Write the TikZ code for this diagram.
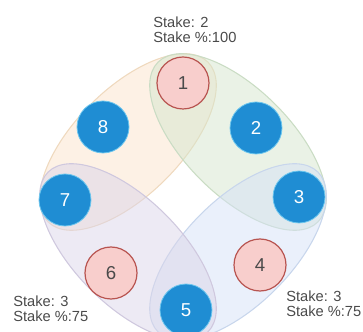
\documentclass[tikz,border=0pt]{standalone}
\usepackage{fontspec}
\setmainfont{Liberation Sans}

\definecolor{orfill}{HTML}{FBE3CC}
\definecolor{ordraw}{HTML}{EFD9BE}
\definecolor{grfill}{HTML}{D5E6CD}
\definecolor{grdraw}{HTML}{CADCC4}
\definecolor{blfill}{HTML}{D5E1F7}
\definecolor{bldraw}{HTML}{C8D6EC}
\definecolor{pufill}{HTML}{DBD5E9}
\definecolor{pudraw}{HTML}{CFC8DE}
\definecolor{ptblue}{HTML}{1F8DD3}
\definecolor{ptblueedge}{HTML}{6CC6EE}
\definecolor{ptpink}{HTML}{F8CECC}
\definecolor{ptpinkedge}{HTML}{B85450}
\definecolor{lblgray}{HTML}{4A4A4A}

\newcommand*{\ella}{113}
\newcommand*{\ellb}{53}
\newcommand*{\ellc}{55}

\begin{document}
\begin{tikzpicture}
[
	x=0.75pt,
	y=0.75pt,
	setell/.style={fill opacity=0.5,draw opacity=1,line width=0.8pt},
	bluept/.style={circle,draw=ptblueedge,fill=ptblue,text=white,line width=0.6pt,inner sep=0pt,minimum size=39pt,font=\fontsize{14}{14}\selectfont},
	pinkpt/.style={circle,draw=ptpinkedge,fill=ptpink,text=lblgray,line width=0.9pt,inner sep=0pt,minimum size=39pt,font=\fontsize{14}{14}\selectfont},
	stakelbl/.style={anchor=west,align=left,inner sep=0pt,text=lblgray,font=\fontsize{11}{11}\selectfont}
]

	\useasboundingbox (-183,-134) rectangle (180,197);

	% sets
	\draw[setell,fill=orfill,draw=ordraw,rotate around={45:(-\ellc,\ellc)}] (-\ellc,\ellc) ellipse [x radius=\ella,y radius=\ellb];
	\draw[setell,fill=grfill,draw=grdraw,rotate around={-45:(\ellc,\ellc)}] (\ellc,\ellc) ellipse [x radius=\ella,y radius=\ellb];
	\draw[setell,fill=blfill,draw=bldraw,rotate around={45:(\ellc,-\ellc)}] (\ellc,-\ellc) ellipse [x radius=\ella,y radius=\ellb];
	\draw[setell,fill=pufill,draw=pudraw,rotate around={-45:(-\ellc,-\ellc)}] (-\ellc,-\ellc) ellipse [x radius=\ella,y radius=\ellb];

	% members
	\node[pinkpt] at (0,114) (p1) {1};
	\node[bluept] at (73,69) (p2) {2};
	\node[bluept] at (116,0) (p3) {3};
	\node[pinkpt] at (77,-68) (p4) {4};
	\node[bluept] at (3,-113) (p5) {5};
	\node[pinkpt] at (-72,-76) (p6) {6};
	\node[bluept] at (-118,-3) (p7) {7};
	\node[bluept] at (-80,70) (p8) {8};

	% stakes
	\node[stakelbl] at (-30,167) (stktop) {Stake: 2\\Stake \%:100};
	\node[stakelbl] at (-170,-112) (stkleft) {Stake: 3\\Stake \%:75};
	\node[stakelbl] at (103,-107) (stkright) {Stake: 3\\Stake \%:75};

\end{tikzpicture}
\end{document}
